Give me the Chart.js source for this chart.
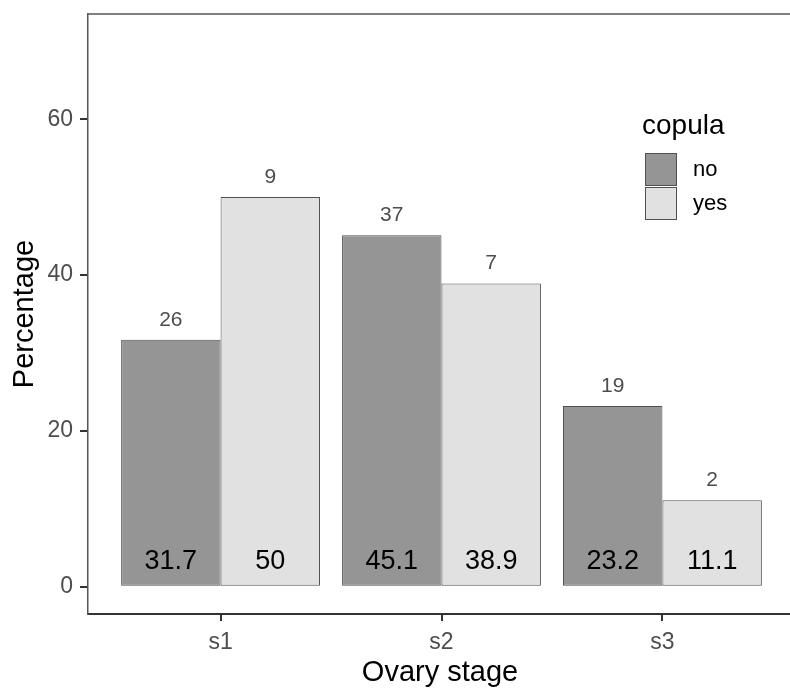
<!DOCTYPE html>
<html>
<head>
<meta charset="utf-8">
<script src="https://cdn.jsdelivr.net/npm/chart.js@4/dist/chart.umd.min.js"></script>
<style>
  html, body { margin: 0; padding: 0; background: #fff; overflow: hidden; }
  canvas { display: block; }
</style>
</head>
<body>
<canvas id="ovaryChart" width="800" height="689"></canvas>
<script>
const categories = ['s1', 's2', 's3'];
const noPct = [31.7, 45.1, 23.2];
const yesPct = [50, 38.9, 11.1];
const noCount = [26, 37, 19];
const yesCount = [9, 7, 2];
const yTicks = [0, 20, 40, 60];

const FONT = '"Liberation Sans", Arial, sans-serif';

// bar labels: counts above, percentages near the base
const barLabels = {
  id: 'barLabels',
  afterDatasetsDraw(chart) {
    const ctx = chart.ctx;
    const y0 = chart.scales.y.getPixelForValue(0);
    const counts = [noCount, yesCount];
    ctx.save();
    ctx.textAlign = 'center';
    ctx.textBaseline = 'middle';
    chart.data.datasets.forEach((ds, i) => {
      chart.getDatasetMeta(i).data.forEach((bar, j) => {
        ctx.fillStyle = '#4D4D4D';
        ctx.font = '21px ' + FONT;
        ctx.fillText(String(counts[i][j]), bar.x, bar.y - 20);
        ctx.fillStyle = '#000';
        ctx.font = '27px ' + FONT;
        ctx.fillText(String(ds.data[j].y), bar.x, y0 - 25);
      });
    });
    ctx.restore();
  }
};

// panel top line, axis titles and legend
const decorations = {
  id: 'decorations',
  afterDraw(chart) {
    const ctx = chart.ctx;
    const a = chart.chartArea;
    ctx.save();
    ctx.strokeStyle = '#555';
    ctx.lineWidth = 1.5;
    ctx.beginPath();
    ctx.moveTo(a.left, a.top);
    ctx.lineTo(chart.width, a.top);
    ctx.stroke();

    ctx.fillStyle = '#000';
    ctx.font = '29px ' + FONT;
    ctx.textAlign = 'center';
    ctx.textBaseline = 'middle';
    ctx.fillText('Ovary stage', (a.left + 790) / 2 + 1, 673);
    ctx.save();
    ctx.translate(25, (a.top + a.bottom) / 2);
    ctx.rotate(-Math.PI / 2);
    ctx.fillText('Percentage', 0, 0);
    ctx.restore();

    // legend
    ctx.textAlign = 'left';
    ctx.font = '28px ' + FONT;
    ctx.fillText('copula', 642, 126);
    ctx.font = '22px ' + FONT;
    chart.data.datasets.forEach((ds, i) => {
      const top = 153 + i * 34;
      ctx.fillStyle = ds.backgroundColor;
      ctx.fillRect(645, top, 32, 33);
      ctx.strokeStyle = ds.borderColor;
      ctx.lineWidth = 1;
      ctx.strokeRect(645.5, top + 0.5, 31, 32);
      ctx.fillStyle = '#000';
      ctx.fillText(ds.label, 693, top + 17);
    });
    ctx.restore();
  }
};

new Chart(document.getElementById('ovaryChart'), {
  type: 'bar',
  data: {
    datasets: [
      {
        label: 'no',
        data: noPct.map((v, i) => ({ x: i + 1, y: v })),
        backgroundColor: '#959595',
        borderColor: '#505050',
        borderWidth: 1,
        borderSkipped: false,
        categoryPercentage: 0.9,
        barPercentage: 1.0
      },
      {
        label: 'yes',
        data: yesPct.map((v, i) => ({ x: i + 1, y: v })),
        backgroundColor: '#E1E1E1',
        borderColor: '#505050',
        borderWidth: 1,
        borderSkipped: false,
        categoryPercentage: 0.9,
        barPercentage: 1.0
      }
    ]
  },
  options: {
    responsive: false,
    animation: false,
    layout: { padding: { top: 14, right: 5, left: 0, bottom: 0 } },
    plugins: {
      legend: { display: false },
      tooltip: { enabled: false }
    },
    scales: {
      x: {
        type: 'linear',
        min: 0.4,
        max: 3.6,
        offset: false,
        afterBuildTicks: s => { s.ticks = categories.map((c, i) => ({ value: i + 1 })); },
        afterFit: s => { s.height = 75; },
        ticks: {
          callback: v => categories[v - 1],
          color: '#4D4D4D',
          font: { family: FONT, size: 23 },
          padding: 8,
          maxRotation: 0
        },
        grid: { offset: false, drawOnChartArea: false, drawTicks: true, tickLength: 7, color: '#333', lineWidth: 2 },
        border: { display: true, color: '#333', width: 2 }
      },
      y: {
        min: -3.5,
        max: 73.5,
        afterBuildTicks: s => { s.ticks = yTicks.map(v => ({ value: v })); },
        afterFit: s => { s.width = 88; s.paddingTop = 0; s.paddingBottom = 0; },
        ticks: {
          color: '#4D4D4D',
          font: { family: FONT, size: 23 },
          padding: 7
        },
        grid: { drawOnChartArea: false, drawTicks: true, tickLength: 8, color: '#333', lineWidth: 2 },
        border: { display: true, color: '#555', width: 1.5 }
      }
    }
  },
  plugins: [barLabels, decorations]
});
</script>
</body>
</html>
